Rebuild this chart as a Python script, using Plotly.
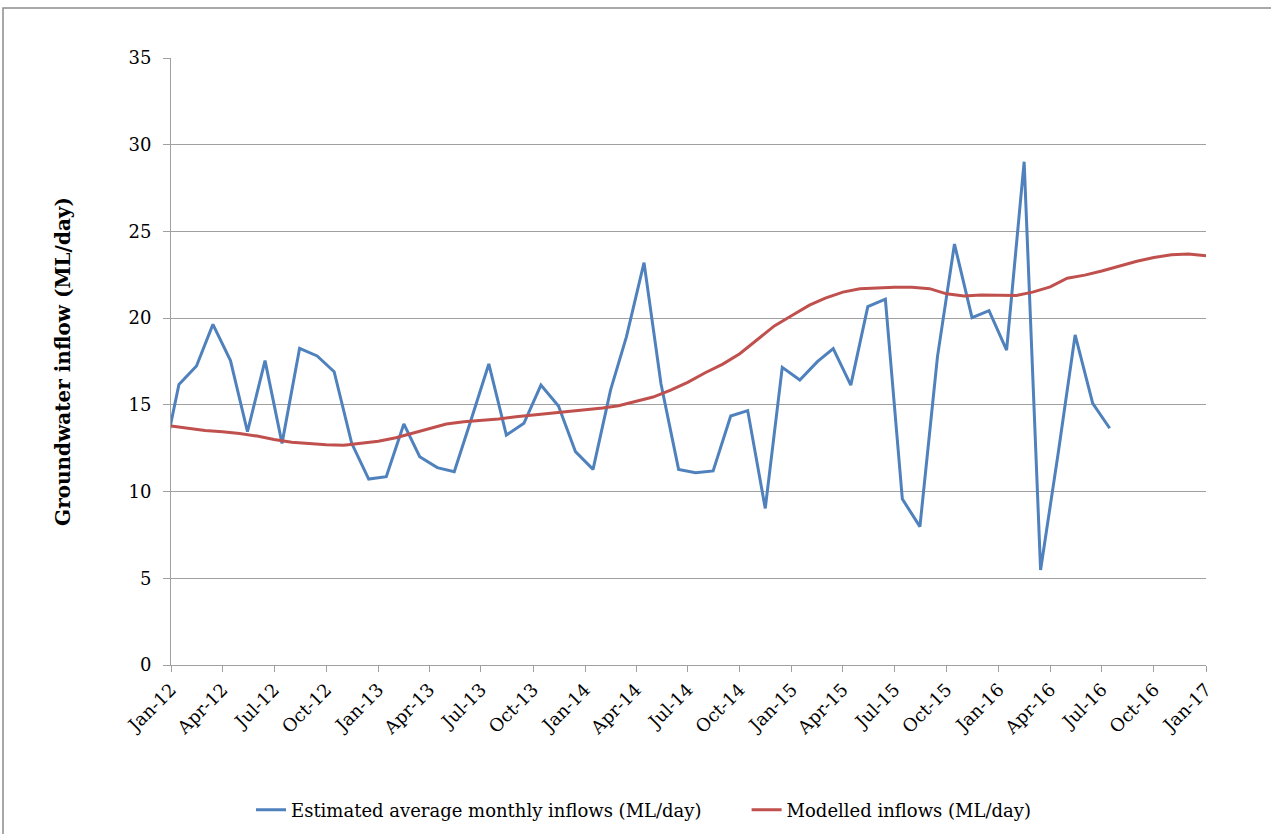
import plotly.graph_objects as go
import pandas as pd

# Estimated average monthly inflows (ML/day), plotted mid-month (Dec-11 .. Jul-16)
est_dates = pd.date_range("2011-12-01", periods=56, freq="MS") + pd.Timedelta(days=14)
est_values = [11.3,
              16.18, 17.24, 19.64, 17.55, 13.45, 17.55, 12.78, 18.26, 17.82, 16.91, 12.78, 10.72,
              10.86, 13.9, 12.01, 11.38, 11.15, 14.27, 17.36, 13.26, 13.94, 16.14, 14.93, 12.3,
              11.28, 15.86, 18.93, 23.2, 16.2, 11.28, 11.09, 11.19, 14.36, 14.67, 9.03, 17.16,
              16.43, 17.49, 18.24, 16.14, 20.66, 21.09, 9.57, 7.98, 17.78, 24.27, 20.03, 20.43,
              18.16, 29.02, 5.48, 12.2, 19.03, 15.09, 13.65]

# Modelled inflows (ML/day), first of each month Jan-12 .. Jan-17
mod_dates = pd.date_range("2012-01-01", "2017-01-01", freq="MS")
mod_values = [13.78, 13.65, 13.52, 13.45, 13.35, 13.2, 13.0, 12.85, 12.76, 12.7, 12.67, 12.8,
              12.9, 13.1, 13.35, 13.65, 13.9, 14.02, 14.08, 14.18, 14.32, 14.42, 14.52, 14.62,
              14.7, 14.82, 14.95, 15.2, 15.45, 15.85, 16.3, 16.85, 17.35, 17.95, 18.75, 19.55,
              20.15, 20.75, 21.15, 21.5, 21.7, 21.75, 21.78, 21.78, 21.7, 21.4, 21.28, 21.33,
              21.32, 21.3, 21.5, 21.8, 22.3, 22.48, 22.72, 23.0, 23.28, 23.5, 23.65, 23.7, 23.6]

series_names = ["Estimated average monthly inflows (ML/day)", "Modelled inflows (ML/day)"]

FONT = "DejaVu Serif"
GRID = "#a0a0a0"

fig = go.Figure()
fig.add_trace(go.Scatter(x=est_dates, y=est_values, mode="lines",
                         name=series_names[0] + "&nbsp;" * 7,
                         line=dict(color="#4F81BD", width=3)))
fig.add_trace(go.Scatter(x=mod_dates, y=mod_values, mode="lines",
                         name=series_names[1],
                         line=dict(color="#C0504D", width=3)))

fig.update_layout(
    width=1271, height=834,
    margin=dict(l=171, r=65, t=58, b=169),
    paper_bgcolor="white", plot_bgcolor="white",
    font=dict(family=FONT, size=18, color="black"),
    showlegend=True,
    legend=dict(orientation="h", xref="container", yref="container",
                x=643.5 / 1271, xanchor="center", y=1 - 810 / 834, yanchor="middle",
                font=dict(family=FONT, size=18), tracegroupgap=0),
    xaxis=dict(type="date", range=["2012-01-01", "2017-01-01"], tick0="2012-01-01",
               dtick="M3", tickformat="%b-%y", tickangle=-45, showgrid=False,
               showline=True, linecolor=GRID, linewidth=1, ticks="outside",
               ticklen=6, tickcolor=GRID, tickfont=dict(family=FONT, size=18)),
    yaxis=dict(range=[0, 35], dtick=5, showgrid=True, gridcolor=GRID, gridwidth=1,
               showline=True, linecolor=GRID, linewidth=1, ticks="outside",
               ticklen=7, tickcolor=GRID, zeroline=False, ticklabelstandoff=8,
               tickfont=dict(family=FONT, size=18),
               title=dict(text="<b>Groundwater inflow (ML/day)</b>", standoff=52,
                          font=dict(family=FONT, size=20))),
)

# outer chart border
fig.add_shape(type="rect", xref="paper", yref="paper",
              x0=(3 - 171) / 1035, x1=(1290 - 171) / 1035,
              y0=(665 - 850) / 607, y1=(665 - 8) / 607,
              line=dict(color="#8c8c8c", width=1.5), fillcolor="rgba(0,0,0,0)", layer="below")

fig.write_html("out.html", config={"displayModeBar": False},
               post_script="document.body.style.margin='0px';")
